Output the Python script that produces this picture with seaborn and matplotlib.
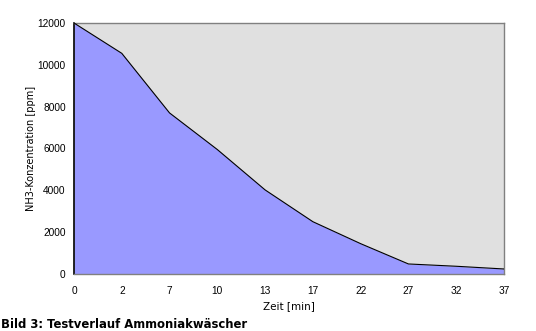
import matplotlib
matplotlib.use("Agg")
import matplotlib.pyplot as plt
import seaborn as sns
import numpy as np
import pandas as pd

times = ["0", "2", "7", "10", "13", "17", "22", "27", "32", "37"]
concentration = [12000, 10550, 7700, 5950, 4020, 2500, 1450, 480, 370, 240]
yticks = [0, 2000, 4000, 6000, 8000, 10000, 12000]

sns.set_theme(style="white")
plt.rcParams['font.family'] = ['Liberation Sans', 'DejaVu Sans']
plt.rcParams['text.color'] = 'black'
plt.rcParams['axes.labelcolor'] = 'black'

df = pd.DataFrame({"pos": np.arange(len(times)), "conc": concentration})

fig = plt.figure(figsize=(5.36, 3.31), dpi=100)
ax = fig.add_axes([74/536, 57/331, 430/536, 251/331])
ax.set_facecolor("#e0e0e0")
ax.fill_between(df["pos"], df["conc"], 0, color="#9999ff", linewidth=0, zorder=2)
sns.lineplot(data=df, x="pos", y="conc", color="black", linewidth=0.8, ax=ax, zorder=3)

ax.set_xlim(0, len(times) - 1)
ax.set_ylim(0, 12000)
ax.set_xticks(df["pos"])
ax.set_xticklabels(times)
ax.set_yticks(yticks)
ax.set_yticklabels([str(v) for v in yticks])
ax.tick_params(axis="both", length=0, labelsize=7.3, colors="black")
ax.tick_params(axis="y", pad=6)
ax.tick_params(axis="x", pad=9)
ax.set_xlabel("Zeit [min]", fontsize=7.5, labelpad=3, family=["DejaVu Sans"])
ax.set_ylabel("NH3-Konzentration [ppm]", fontsize=7, labelpad=1, family=["DejaVu Sans"])
for s in ["top", "right", "bottom"]:
    ax.spines[s].set_color("#808080")
    ax.spines[s].set_linewidth(1)
ax.spines["left"].set_color("black")
ax.spines["left"].set_linewidth(1.2)
ax.grid(False)

fig.text(0.002, 3.5/331, "Bild 3: Testverlauf Ammoniakwäscher", fontsize=8.4,
         fontweight="bold", family=["DejaVu Sans"], color="black",
         ha="left", va="baseline")

fig.savefig("out.png", dpi=100)
